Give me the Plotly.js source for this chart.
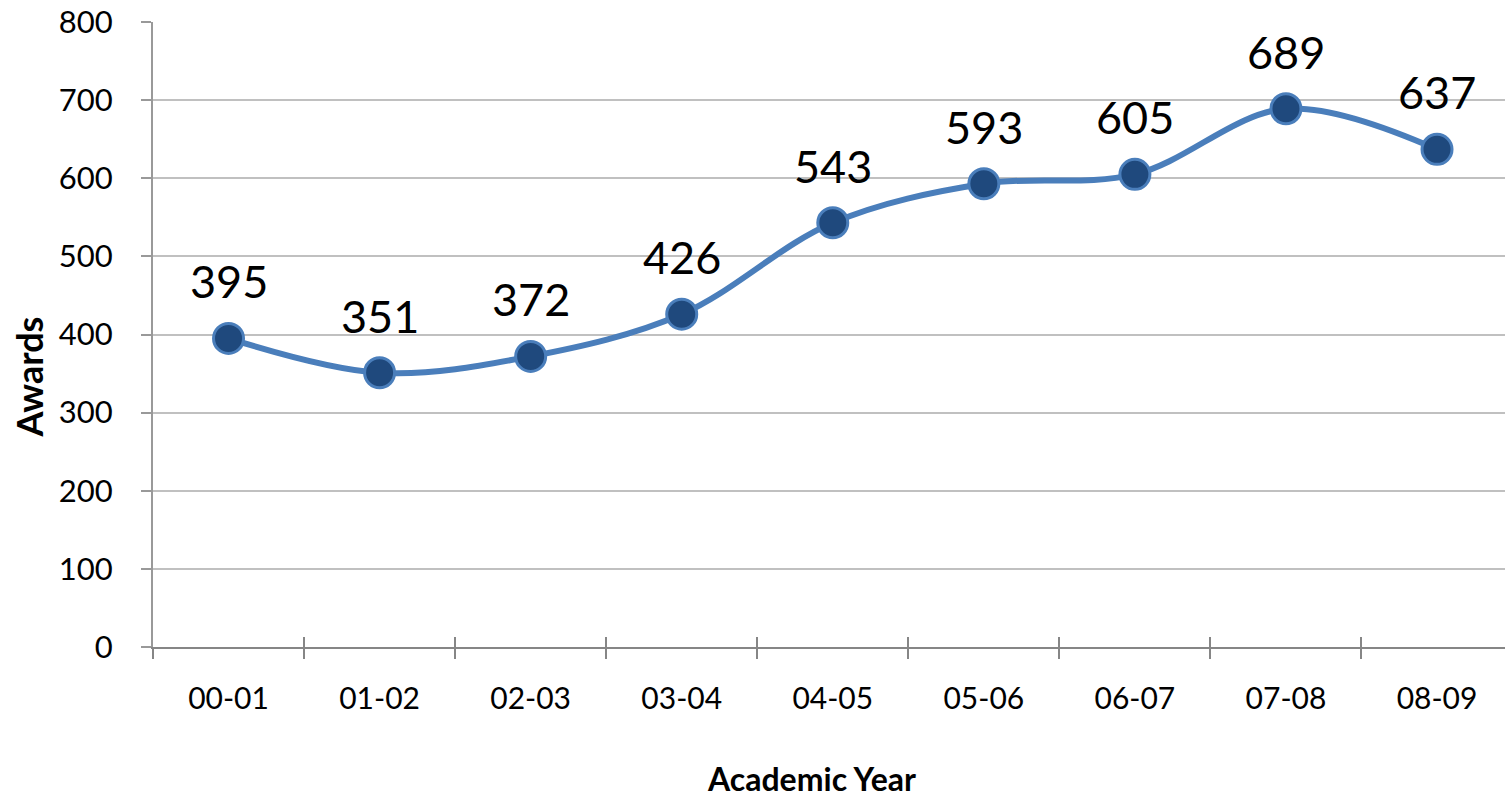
<!DOCTYPE html>
<html>
<head>
<meta charset="utf-8">
<script src="https://cdn.plot.ly/plotly-3.0.1.min.js"></script>
<style>html,body{margin:0;padding:0;background:#fff;}#chart{width:1505px;height:799px;}</style>
</head>
<body>
<div id="chart"></div>
<script>
var years = ["00-01","01-02","02-03","03-04","04-05","05-06","06-07","07-08","08-09"];
var awards = [395, 351, 372, 426, 543, 593, 605, 689, 637];
var yTicks = [0,100,200,300,400,500,600,700,800];

var FONT = "Lato, 'Noto Sans', sans-serif";

var trace = {
  x: years, y: awards, type: "scatter", mode: "lines+markers",
  line: {color: "#4a7ebb", width: 6, shape: "spline", smoothing: 1},
  marker: {size: 30, color: "#1f497d", line: {color: "#4a7ebb", width: 3}},
  hoverinfo: "skip", cliponaxis: false
};
var dummy = {x: years, y: awards, xaxis: "x2", type: "scatter", mode: "none", hoverinfo: "skip", showlegend: false};

var annotations = years.map(function(c, i){
  return {x: c, y: awards[i], xref: "x", yref: "y", text: String(awards[i]),
    showarrow: false, yshift: 57, font: {family: FONT, size: 45, color: "#000"}};
});
annotations.push({xref: "paper", yref: "paper", x: 0.4874, y: -0.2096, xanchor: "center", yanchor: "middle",
  text: "<b>Academic Year</b>", showarrow: false, font: {family: FONT, size: 32, color: "#000"}});
annotations.push({xref: "paper", yref: "paper", x: -0.092, y: 0.432, xanchor: "center", yanchor: "middle",
  textangle: -90, text: "<b>Awards</b>", showarrow: false, font: {family: FONT, size: 36, color: "#000"}});

var layout = {
  width: 1505, height: 799,
  margin: {l: 153, r: 0, t: 22, b: 152},
  paper_bgcolor: "#fff", plot_bgcolor: "#fff",
  showlegend: false,
  font: {family: FONT, color: "#000"},
  xaxis: {
    type: "category", range: [-0.5, 8.45],
    showgrid: false, zeroline: false,
    showline: true, linecolor: "#868686", linewidth: 2,
    ticks: "outside", ticklen: 10, tickwidth: 2, tickcolor: "#868686", tickson: "boundaries",
    tickfont: {family: FONT, size: 30, color: "#000"},
    ticklabelstandoff: 24
  },
  xaxis2: {
    type: "category", overlaying: "x", matches: "x", range: [-0.5, 8.45],
    showgrid: false, zeroline: false, showline: false,
    ticks: "inside", ticklen: 10, tickwidth: 2, tickcolor: "#868686", tickson: "boundaries",
    showticklabels: false
  },
  yaxis: {
    range: [0, 800], tickvals: yTicks, ticktext: yTicks.map(String),
    showgrid: true, gridcolor: "#c0c0c0", gridwidth: 2,
    zeroline: false,
    showline: true, linecolor: "#999999", linewidth: 2,
    ticks: "outside", ticklen: 10, tickwidth: 2, tickcolor: "#999999",
    tickfont: {family: FONT, size: 31, color: "#000"},
    ticklabelstandoff: 22
  },
  annotations: annotations
};

Plotly.newPlot("chart", [trace, dummy], layout, {staticPlot: true, displayModeBar: false});
</script>
</body>
</html>
